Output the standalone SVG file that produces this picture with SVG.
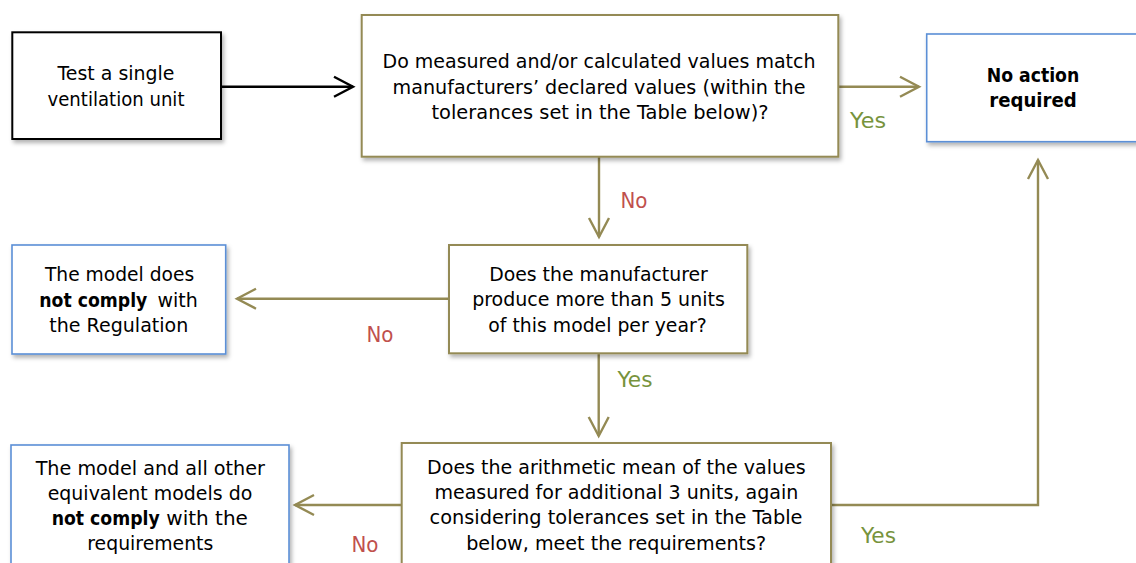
<svg xmlns="http://www.w3.org/2000/svg" width="1136" height="563" viewBox="0 0 1136 563">
<style>
text{font-family:"DejaVu Sans","Liberation Sans",sans-serif;font-size:20px;fill:#000;text-anchor:middle}
.b{font-weight:bold}
.s{text-anchor:start}
.box{fill:#fff;stroke-width:2}
.olive{stroke:#948A54}
.blue{stroke:#5B8FD6;stroke-width:1.6}
.blk{stroke:#000}
.yes{fill:#77933C;font-size:21px}
.no{fill:#C0504D;font-size:21px}
.con{fill:none;stroke-width:2.4}
</style>
<defs>
<filter id="sh" x="-10%" y="-10%" width="130%" height="140%">
<feDropShadow dx="2" dy="3" stdDeviation="2" flood-color="#000" flood-opacity="0.3"/>
</filter>
<marker id="ao" markerUnits="userSpaceOnUse" markerWidth="24" markerHeight="24" viewBox="-2 -2 24 24" refX="19" refY="10" orient="auto">
<path d="M0,0 L19,10 L0,20" fill="none" stroke="#948A54" stroke-width="2.4"/>
</marker>
<marker id="ak" markerUnits="userSpaceOnUse" markerWidth="24" markerHeight="24" viewBox="-2 -2 24 24" refX="19" refY="10" orient="auto">
<path d="M0,0 L19,10 L0,20" fill="none" stroke="#000" stroke-width="2.4"/>
</marker>
</defs>
<g id="connectors">
<path class="con" stroke="#000" d="M221,86.7 L353,86.7" marker-end="url(#ak)"/>
<path class="con" stroke="#948A54" d="M838,86.7 L919,86.7" marker-end="url(#ao)"/>
<path class="con" stroke="#948A54" d="M599,157 L599,237" marker-end="url(#ao)"/>
<path class="con" stroke="#948A54" d="M448,298.7 L237,298.7" marker-end="url(#ao)"/>
<path class="con" stroke="#948A54" d="M598.7,354 L598.7,436" marker-end="url(#ao)"/>
<path class="con" stroke="#948A54" d="M401.7,505 L295,505" marker-end="url(#ao)"/>
<path class="con" stroke="#948A54" d="M831,505 L1038,505 L1038,160" marker-end="url(#ao)"/>
<text class="yes" x="868" y="128" textLength="36" lengthAdjust="spacingAndGlyphs">Yes</text>
<text class="no" x="634" y="207.5" textLength="27" lengthAdjust="spacingAndGlyphs">No</text>
<text class="no" x="380" y="341.5" textLength="27" lengthAdjust="spacingAndGlyphs">No</text>
<text class="yes" x="635" y="387" textLength="35" lengthAdjust="spacingAndGlyphs">Yes</text>
<text class="no" x="365" y="551.5" textLength="27" lengthAdjust="spacingAndGlyphs">No</text>
<text class="yes" x="878.5" y="543" textLength="35" lengthAdjust="spacingAndGlyphs">Yes</text>
</g>
<g id="n1">
<rect class="box blk" x="12.3" y="32.3" width="208.7" height="106.7" filter="url(#sh)"/>
<text x="116" y="80" textLength="117" lengthAdjust="spacingAndGlyphs">Test a single</text>
<text x="116" y="105.5" textLength="137" lengthAdjust="spacingAndGlyphs">ventilation unit</text>
</g>
<g id="n2">
<rect class="box olive" x="361.7" y="15" width="476.6" height="141.7" filter="url(#sh)"/>
<text x="599" y="68.3" textLength="433" lengthAdjust="spacingAndGlyphs">Do measured and/or calculated values match</text>
<text x="599" y="93.8" textLength="413" lengthAdjust="spacingAndGlyphs">manufacturers’ declared values (within the</text>
<text x="600" y="119.3" textLength="337" lengthAdjust="spacingAndGlyphs">tolerances set in the Table below)?</text>
</g>
<g id="n3">
<rect class="box blue" x="926.7" y="34" width="220" height="107.7" filter="url(#sh)"/>
<text class="b" x="1033" y="81.7" textLength="92.6" lengthAdjust="spacingAndGlyphs">No action</text>
<text class="b" x="1033" y="107" textLength="87.4" lengthAdjust="spacingAndGlyphs">required</text>
</g>
<g id="n4">
<rect class="box olive" x="449" y="245" width="298.3" height="108.3" filter="url(#sh)"/>
<text x="598.5" y="280.7" textLength="218.7" lengthAdjust="spacingAndGlyphs">Does the manufacturer</text>
<text x="598.5" y="306" textLength="252.7" lengthAdjust="spacingAndGlyphs">produce more than 5 units</text>
<text x="597.5" y="331.7" textLength="218.4" lengthAdjust="spacingAndGlyphs">of this model per year?</text>
</g>
<g id="n5">
<rect class="box blue" x="12" y="245" width="213.7" height="109" filter="url(#sh)"/>
<text x="119.6" y="280.7" textLength="149.3" lengthAdjust="spacingAndGlyphs">The model does</text>
<text class="b s" transform="translate(39.3,306.5) scale(0.864,1)">not comply</text>
<text class="s" transform="translate(157.5,306.5) scale(0.95,1)">with</text>
<text x="118.8" y="331.7" textLength="139" lengthAdjust="spacingAndGlyphs">the Regulation</text>
</g>
<g id="n6">
<rect class="box olive" x="401.7" y="443" width="429.3" height="130" filter="url(#sh)"/>
<text x="616.4" y="474.3" textLength="378.6" lengthAdjust="spacingAndGlyphs">Does the arithmetic mean of the values</text>
<text x="616.4" y="499" textLength="364" lengthAdjust="spacingAndGlyphs">measured for additional 3 units, again</text>
<text x="616" y="524" textLength="373" lengthAdjust="spacingAndGlyphs">considering tolerances set in the Table</text>
<text x="616.2" y="549.5" textLength="300" lengthAdjust="spacingAndGlyphs">below, meet the requirements?</text>
</g>
<g id="n7">
<rect class="box blue" x="11" y="445" width="278" height="130" filter="url(#sh)"/>
<text x="150.3" y="475" textLength="229.3" lengthAdjust="spacingAndGlyphs">The model and all other</text>
<text x="150" y="500" textLength="204.6" lengthAdjust="spacingAndGlyphs">equivalent models do</text>
<text class="b s" transform="translate(51.7,525) scale(0.864,1)">not comply</text>
<text class="s" x="166.3" y="525">with the</text>
<text x="150.3" y="550" textLength="126" lengthAdjust="spacingAndGlyphs">requirements</text>
</g>
</svg>
